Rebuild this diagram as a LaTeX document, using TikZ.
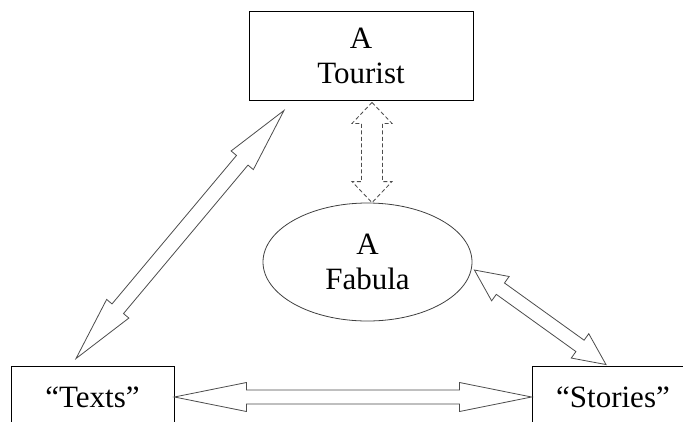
\documentclass[tikz,border=0pt]{standalone}
\usepackage{fontspec}
\setmainfont{Liberation Serif}
\usetikzlibrary{shapes.geometric, calc, positioning}

\tikzset{
  box/.style={draw, rectangle, line width=0.9pt, align=center, font=\fontsize{31}{35}\selectfont},
  fabbox/.style={draw=black!75, ellipse, line width=0.8pt, align=center, font=\fontsize{31}{35}\selectfont},
  arrowline/.style={draw=black!70, line width=0.8pt, fill=white, line join=miter},
}

% hollow two-headed block arrow: [opts]{from}{to}{shaft half}{head half}{head length}
\newcommand{\dblarrow}[6][]{%
  \draw[arrowline,#1] let \p1=($#3-#2$), \n1={atan2(\y1,\x1)}, \n2={veclen(\x1,\y1)} in
    {[shift={#2},rotate=\n1]
    (0pt,0pt) -- (#6,#5) -- (#6,#4) -- (\n2-#6,#4) -- (\n2-#6,#5) -- (\n2,0pt)
    -- (\n2-#6,-#5) -- (\n2-#6,-#4) -- (#6,-#4) -- (#6,-#5) -- cycle};
}

\begin{document}
\begin{tikzpicture}[x=1pt, y=-1pt]
    \useasboundingbox (0,0) rectangle (683,421);
    \clip (0,0) rectangle (683,421);

    % the four parts
    \node[box, minimum width=224, minimum height=89] (tourist) at (361,55.5) {A\\Tourist};
    \node[fabbox, minimum width=209, minimum height=118] (fabula) at (367.5,262) {A\\Fabula};
    \node[box, minimum width=163, minimum height=62] (texts) at (92.5,397) {``Texts''};
    \node[box, minimum width=162, minimum height=62] (stories) at (613,397) {``Stories''};

    % arrow ends
    \coordinate (tourtip) at ($(tourist.south)+(-77,10)$);
    \coordinate (texttip) at ($(texts.north)+(-16.5,-7)$);
    \coordinate (fabtip) at ($(fabula.east)+(2,8)$);
    \coordinate (storytip) at ($(stories.north)+(-7,-1)$);
    \coordinate (dashtop) at ($(tourist.south)+(11,2)$);
    \coordinate (dashbot) at (fabula.north -| dashtop);

    \dblarrow{(texttip)}{(tourtip)}{7.5pt}{14.5pt}{65pt}
    \dblarrow{(texts.east)}{(stories.west)}{7pt}{14.5pt}{72pt}
    \dblarrow{(fabtip)}{(storytip)}{7pt}{15pt}{32pt}
    \dblarrow[dash pattern=on 4pt off 2.5pt]{(dashtop)}{(dashbot)}{10.5pt}{20pt}{21pt}
\end{tikzpicture}
\end{document}
